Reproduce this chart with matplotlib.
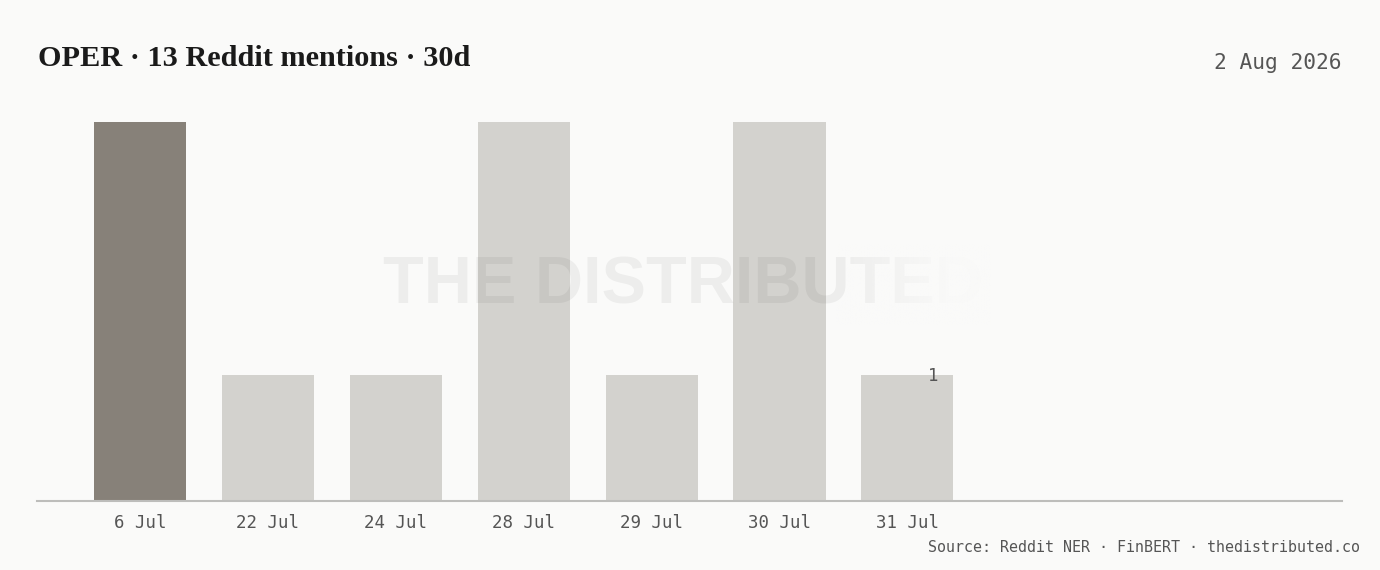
import matplotlib
matplotlib.use("Agg")
import matplotlib.pyplot as plt
import numpy as np
from matplotlib.colors import to_rgb

dates = ["6 Jul", "22 Jul", "24 Jul", "28 Jul", "29 Jul", "30 Jul", "31 Jul"]
mentions = [3, 1, 1, 3, 1, 3, 1]
highlight = [True, False, False, False, False, False, False]
title = "OPER · 13 Reddit mentions · 30d"
date_label = "2 Aug 2026"
source = "Source: Reddit NER · FinBERT · thedistributed.co"

BG = "#fafaf9"
DARK = "#878179"
LIGHT = "#d3d2ce"
MONO = ["DejaVu Sans Mono"]

fig = plt.figure(figsize=(13.8, 5.7), dpi=100, facecolor=BG)
ax = fig.add_axes([37/1380, 1-501/570, (1342-37)/1380, (501-122)/570])
ax.set_facecolor(BG)

x = list(range(len(dates)))
colors = [DARK if h else LIGHT for h in highlight]
ax.bar(x, mentions, width=0.72, color=colors, zorder=2)
ax.set_xlim(-0.805, 9.398)
ax.set_ylim(0, 3)
ax.set_xticks(x)
ax.set_xticklabels(dates, family=MONO, fontsize=12.5, color="#555555")
ax.tick_params(axis="x", length=0, pad=9)
ax.set_yticks([])
for s in ["top", "left", "right"]:
    ax.spines[s].set_visible(False)
ax.spines["bottom"].set_color("#bdbdbb")
ax.spines["bottom"].set_linewidth(1.5)

# value label on last bar
ax.text(x[-1] + 0.2, mentions[-1] - 0.01, str(mentions[-1]), ha="center", va="center",
        family=MONO, fontsize=12.5, color="#555555", zorder=3)

# watermark (fading towards the right)
ax.text(683/1380, 1-286/570, "THE DISTRIBUTED", ha="center", va="center",
        transform=fig.transFigure, family=["Liberation Sans"], fontweight="bold",
        fontsize=48, color="black", alpha=0.05, zorder=5)
grad = np.zeros((2, 256, 4))
grad[..., :3] = to_rgb(BG)
grad[..., 3] = np.clip(np.linspace(0, 1.3, 256), 0, 0.95)[None, :]
x0 = (835 - 140) / 127.9
x1 = (990 - 140) / 127.9
y0 = (501 - 325) / 126.33
y1 = (501 - 245) / 126.33
ax.imshow(grad, extent=[x0, x1, y0, y1], aspect="auto", zorder=6,
          interpolation="bilinear")
ax.set_xlim(-0.805, 9.398)
ax.set_ylim(0, 3)

fig.text(38/1380, 1-59/570, title, ha="left", va="center",
         family=["Liberation Serif"], fontweight="bold", fontsize=21.8, color="#1a1a1a")
fig.text(1341/1380, 1-63/570, date_label, ha="right", va="center",
         family=MONO, fontsize=15.2, color="#555555")
fig.text(1360/1380, 1-547/570, source, ha="right", va="center",
         family=MONO, fontsize=10.8, color="#555555")

fig.savefig("out.png", dpi=100, facecolor=BG)
